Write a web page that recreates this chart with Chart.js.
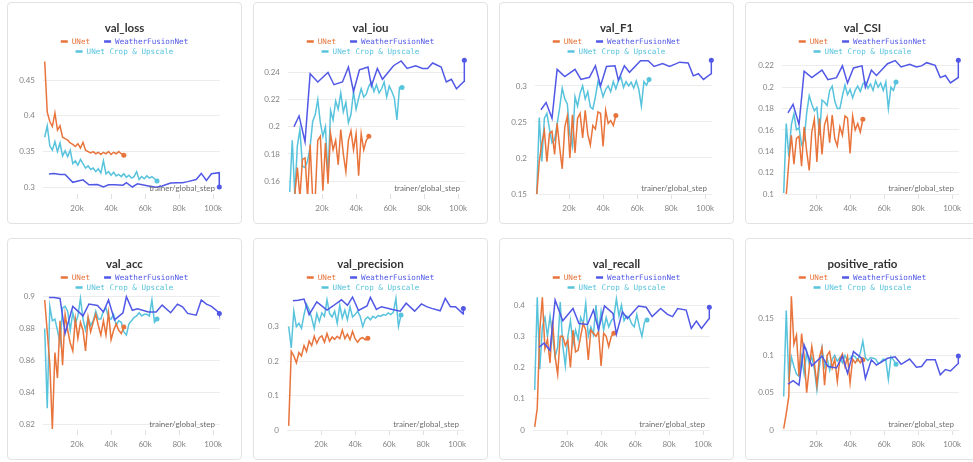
<!DOCTYPE html>
<html>
<head>
<meta charset="utf-8">
<script src="https://cdn.jsdelivr.net/npm/chart.js"></script>
<style>
  html, body { margin: 0; padding: 0; background: #ffffff; }
  body { position: relative; width: 973px; height: 462px; overflow: hidden; }
  .panel { position: absolute; width: 235px; height: 222px; box-sizing: border-box;
           border: 1px solid #e2e2e2; border-radius: 4px; background: #ffffff; overflow: hidden; }
  .panel canvas { position: absolute; left: 0; top: 0; }
</style>
</head>
<body>
<div class="panel" style="left:7px;top:2px"><canvas id="c0" width="233" height="220"></canvas></div>
<div class="panel" style="left:253px;top:2px"><canvas id="c1" width="233" height="220"></canvas></div>
<div class="panel" style="left:499px;top:2px"><canvas id="c2" width="233" height="220"></canvas></div>
<div class="panel" style="left:745px;top:2px"><canvas id="c3" width="233" height="220"></canvas></div>
<div class="panel" style="left:7px;top:238px"><canvas id="c4" width="233" height="220"></canvas></div>
<div class="panel" style="left:253px;top:238px"><canvas id="c5" width="233" height="220"></canvas></div>
<div class="panel" style="left:499px;top:238px"><canvas id="c6" width="233" height="220"></canvas></div>
<div class="panel" style="left:745px;top:238px"><canvas id="c7" width="233" height="220"></canvas></div>
<script>
// ---- evaluation steps of each run ----
const UNET_STEPS = [1000,2500,4000,5500,7000,8500,10000,11500,13000,14500,16000,17500,19000,20500,22000,23500,25000,26500,28000,29500,31000,32500,34000,35500,37000,38500,40000,41500,43000,44500,46000,47500];
const CROP_STEPS = [1000,2500,4000,5500,7000,8500,10000,11500,13000,14500,16000,17500,19000,20500,22000,23500,25000,26500,28000,29500,31000,32500,34000,35500,37000,38500,40000,41500,43000,44500,46000,47500,49000,50500,52000,53500,55000,56500,58000,59500,61000,62500,64000,65500,67000];
const WFN_STEPS = [3500,6500,10000,13000,17500,23500,27000,32000,35500,38500,42000,47000,49000,52500,55500,62000,66500,70000,75000,79000,82000,85000,90000,93000,96000,99000,103500,103600];

// ---- x axis ticks ----
const X_TICKS = [20000,40000,60000,80000,100000];

// ---- val_loss ----
const LOSS_UNET = [0.476,0.405,0.392,0.385,0.404,0.380,0.386,0.370,0.368,0.366,0.362,0.360,0.357,0.361,0.355,0.363,0.352,0.350,0.348,0.350,0.347,0.349,0.346,0.349,0.347,0.350,0.346,0.349,0.347,0.350,0.347,0.345];
const LOSS_WFN = [0.3185,0.3195,0.318,0.318,0.307,0.3105,0.3035,0.304,0.3005,0.3035,0.3035,0.303,0.3065,0.3005,0.305,0.302,0.300,0.302,0.306,0.3065,0.3065,0.308,0.311,0.3195,0.3095,0.319,0.3205,0.3005];
const LOSS_CROP = [0.370,0.386,0.358,0.352,0.364,0.350,0.362,0.344,0.351,0.343,0.352,0.333,0.337,0.331,0.339,0.333,0.327,0.330,0.325,0.327,0.322,0.326,0.320,0.337,0.319,0.322,0.317,0.321,0.316,0.318,0.315,0.319,0.314,0.317,0.313,0.315,0.322,0.311,0.315,0.312,0.316,0.313,0.315,0.312,0.309];
const LOSS_TICKS = [0.3,0.35,0.4,0.45];

// ---- val_iou ----
const IOU_UNET = [0.147,0.147,0.150,0.170,0.148,0.176,0.177,0.148,0.187,0.147,0.148,0.190,0.193,0.153,0.188,0.158,0.195,0.183,0.190,0.172,0.198,0.180,0.167,0.190,0.197,0.183,0.195,0.164,0.195,0.183,0.190,0.193];
const IOU_WFN = [0.200,0.208,0.189,0.239,0.233,0.240,0.231,0.233,0.244,0.226,0.242,0.244,0.230,0.243,0.235,0.245,0.2485,0.243,0.245,0.243,0.243,0.247,0.244,0.233,0.235,0.228,0.2335,0.249];
const IOU_CROP = [0.152,0.190,0.150,0.186,0.198,0.171,0.170,0.175,0.185,0.204,0.209,0.220,0.203,0.193,0.200,0.163,0.212,0.205,0.219,0.213,0.225,0.211,0.218,0.203,0.209,0.226,0.213,0.221,0.228,0.222,0.224,0.230,0.233,0.226,0.231,0.225,0.228,0.233,0.222,0.230,0.226,0.221,0.205,0.229,0.229];
const IOU_TICKS = [0.16,0.18,0.2,0.22,0.24];

// ---- val_F1 ----
const F1_UNET = [0.148,0.195,0.220,0.238,0.195,0.234,0.237,0.205,0.248,0.214,0.185,0.243,0.258,0.200,0.260,0.207,0.255,0.262,0.228,0.266,0.233,0.218,0.245,0.240,0.264,0.262,0.216,0.266,0.248,0.252,0.245,0.259];
const F1_WFN = [0.267,0.277,0.255,0.323,0.313,0.323,0.309,0.312,0.328,0.300,0.327,0.328,0.308,0.328,0.319,0.335,0.335,0.327,0.331,0.327,0.330,0.333,0.332,0.314,0.317,0.309,0.317,0.3355];
const F1_CROP = [0.149,0.256,0.195,0.255,0.262,0.240,0.221,0.225,0.247,0.270,0.297,0.282,0.275,0.232,0.216,0.285,0.272,0.290,0.300,0.282,0.292,0.271,0.268,0.285,0.306,0.298,0.285,0.295,0.300,0.292,0.306,0.296,0.307,0.312,0.298,0.306,0.300,0.305,0.297,0.307,0.295,0.272,0.306,0.301,0.309];
const F1_TICKS = [0.15,0.2,0.25,0.3];

// ---- val_CSI ----
const CSI_UNET = [0.098,0.099,0.130,0.155,0.128,0.152,0.154,0.126,0.163,0.140,0.122,0.158,0.170,0.130,0.171,0.137,0.165,0.172,0.148,0.174,0.152,0.145,0.163,0.155,0.173,0.171,0.138,0.173,0.160,0.166,0.158,0.170];
const CSI_WFN = [0.176,0.184,0.165,0.215,0.209,0.216,0.207,0.209,0.220,0.204,0.218,0.220,0.200,0.216,0.211,0.222,0.225,0.219,0.2215,0.219,0.220,0.223,0.2205,0.209,0.211,0.204,0.209,0.2253];
const CSI_CROP = [0.101,0.166,0.135,0.165,0.175,0.160,0.162,0.146,0.150,0.176,0.192,0.184,0.178,0.181,0.155,0.188,0.186,0.183,0.197,0.201,0.187,0.180,0.180,0.192,0.202,0.193,0.198,0.190,0.197,0.201,0.196,0.203,0.205,0.199,0.203,0.197,0.206,0.200,0.204,0.197,0.205,0.180,0.200,0.197,0.205];
const CSI_TICKS = [0.1,0.12,0.14,0.16,0.18,0.2,0.22];

// ---- val_acc ----
const ACC_UNET = [0.898,0.878,0.858,0.817,0.865,0.849,0.885,0.857,0.889,0.879,0.871,0.866,0.886,0.874,0.884,0.879,0.866,0.887,0.878,0.884,0.889,0.882,0.876,0.885,0.876,0.890,0.873,0.879,0.883,0.879,0.877,0.881];
const ACC_WFN = [0.8996,0.8996,0.899,0.877,0.894,0.888,0.8955,0.8946,0.8905,0.898,0.8855,0.890,0.900,0.8915,0.8925,0.8905,0.8905,0.8948,0.890,0.8954,0.8937,0.8896,0.8885,0.898,0.8954,0.894,0.890,0.8895];
const ACC_CROP = [0.880,0.830,0.894,0.885,0.886,0.879,0.871,0.893,0.894,0.891,0.879,0.890,0.883,0.888,0.899,0.886,0.879,0.887,0.882,0.885,0.891,0.886,0.886,0.891,0.893,0.887,0.886,0.889,0.882,0.885,0.884,0.878,0.876,0.883,0.885,0.887,0.888,0.890,0.888,0.889,0.889,0.888,0.898,0.884,0.886];
const ACC_TICKS = [0.82,0.84,0.86,0.88,0.9];

// ---- val_precision ----
const PREC_UNET = [0.012,0.228,0.215,0.195,0.225,0.215,0.245,0.228,0.258,0.245,0.272,0.252,0.268,0.273,0.255,0.280,0.258,0.270,0.263,0.272,0.265,0.290,0.265,0.278,0.262,0.286,0.265,0.255,0.265,0.268,0.262,0.266];
const PREC_WFN = [0.375,0.377,0.380,0.335,0.372,0.348,0.360,0.378,0.362,0.386,0.347,0.360,0.385,0.350,0.358,0.350,0.345,0.368,0.345,0.366,0.358,0.353,0.346,0.382,0.358,0.358,0.337,0.353];
const PREC_CROP = [0.300,0.238,0.345,0.300,0.310,0.295,0.335,0.365,0.350,0.325,0.295,0.338,0.315,0.340,0.330,0.378,0.338,0.328,0.345,0.310,0.362,0.325,0.348,0.320,0.358,0.328,0.335,0.345,0.330,0.300,0.322,0.328,0.320,0.330,0.325,0.332,0.330,0.335,0.333,0.340,0.335,0.342,0.382,0.300,0.334];
const PREC_TICKS = [0,0.1,0.2,0.3];

// ---- val_recall ----
const REC_UNET = [0.010,0.070,0.320,0.425,0.260,0.290,0.215,0.350,0.235,0.178,0.300,0.300,0.270,0.288,0.200,0.320,0.250,0.255,0.300,0.341,0.320,0.224,0.320,0.310,0.300,0.315,0.205,0.310,0.300,0.267,0.300,0.310];
const REC_WFN = [0.265,0.278,0.255,0.416,0.350,0.389,0.341,0.338,0.384,0.322,0.397,0.373,0.307,0.378,0.357,0.397,0.393,0.363,0.389,0.370,0.363,0.389,0.384,0.325,0.349,0.325,0.357,0.393];
const REC_CROP = [0.128,0.425,0.195,0.330,0.360,0.300,0.365,0.300,0.235,0.265,0.410,0.270,0.205,0.300,0.350,0.275,0.320,0.290,0.360,0.340,0.405,0.300,0.330,0.305,0.400,0.315,0.380,0.320,0.360,0.330,0.350,0.360,0.420,0.365,0.400,0.350,0.365,0.360,0.340,0.330,0.370,0.330,0.300,0.345,0.352];
const REC_TICKS = [0,0.1,0.2,0.3,0.4];

// ---- positive_ratio ----
const POS_UNET = [0.002,0.022,0.045,0.179,0.115,0.127,0.072,0.129,0.100,0.050,0.083,0.112,0.090,0.060,0.098,0.110,0.060,0.100,0.105,0.083,0.095,0.065,0.095,0.102,0.085,0.098,0.063,0.095,0.090,0.095,0.090,0.094];
const POS_WFN = [0.0615,0.066,0.060,0.114,0.086,0.099,0.085,0.083,0.099,0.076,0.105,0.096,0.069,0.094,0.087,0.096,0.098,0.088,0.095,0.084,0.085,0.094,0.094,0.074,0.081,0.079,0.089,0.099];
const POS_CROP = [0.045,0.160,0.065,0.098,0.085,0.075,0.072,0.098,0.075,0.105,0.088,0.098,0.082,0.054,0.085,0.110,0.085,0.097,0.080,0.095,0.100,0.092,0.097,0.090,0.100,0.093,0.096,0.100,0.098,0.093,0.103,0.119,0.097,0.093,0.097,0.096,0.095,0.089,0.091,0.095,0.094,0.068,0.098,0.094,0.088];
const POS_TICKS = [0,0.05,0.1,0.15];

// ---- run names and colours ----
const RUN_UNET = 'UNet';
const RUN_WFN = 'WeatherFusionNet';
const RUN_CROP = 'UNet Crop & Upscale';
const COLOR_UNET = '#e8743b';
const COLOR_WFN = '#5158e6';
const COLOR_CROP = '#58c3dc';

// one entry per panel: metric name, series, y range and y axis width
const PANELS = [
  { title: 'val_loss',        unet: LOSS_UNET, wfn: LOSS_WFN, crop: LOSS_CROP, ticks: LOSS_TICKS, min: 0.2907, max: 0.478,  axisW: 35 },
  { title: 'val_iou',         unet: IOU_UNET,  wfn: IOU_WFN,  crop: IOU_CROP,  ticks: IOU_TICKS,  min: 0.1505, max: 0.2492, axisW: 34 },
  { title: 'val_F1',          unet: F1_UNET,   wfn: F1_WFN,   crop: F1_CROP,   ticks: F1_TICKS,   min: 0.15,   max: 0.336,  axisW: 35 },
  { title: 'val_CSI',         unet: CSI_UNET,  wfn: CSI_WFN,  crop: CSI_CROP,  ticks: CSI_TICKS,  min: 0.1,    max: 0.2255, axisW: 36 },
  { title: 'val_acc',         unet: ACC_UNET,  wfn: ACC_WFN,  crop: ACC_CROP,  ticks: ACC_TICKS,  min: 0.8164, max: 0.9005, axisW: 35 },
  { title: 'val_precision',   unet: PREC_UNET, wfn: PREC_WFN, crop: PREC_CROP, ticks: PREC_TICKS, min: 0,      max: 0.389,  axisW: 33 },
  { title: 'val_recall',      unet: REC_UNET,  wfn: REC_WFN,  crop: REC_CROP,  ticks: REC_TICKS,  min: 0,      max: 0.429,  axisW: 33 },
  { title: 'positive_ratio',  unet: POS_UNET,  wfn: POS_WFN,  crop: POS_CROP,  ticks: POS_TICKS,  min: 0,      max: 0.1795, axisW: 36 }
];

const CANVAS_W = 233;
const PLOT_W = 177;
const TICK_FONT = { family: 'Lato, "Open Sans", sans-serif', size: 8 };
const LEGEND_ROWS = [
  [[RUN_UNET, COLOR_UNET], [RUN_WFN, COLOR_WFN]],
  [[RUN_CROP, COLOR_CROP]]
];

// legend under the title and the x-axis caption inside the plot
const panelDecor = {
  id: 'panelDecor',
  afterDatasetsDraw(chart) {
    const { ctx, chartArea } = chart;
    ctx.save();
    ctx.font = '8px Lato, "Open Sans", sans-serif';
    ctx.fillStyle = '#6e6e6e';
    ctx.textAlign = 'right';
    ctx.textBaseline = 'middle';
    ctx.fillText('trainer/global_step', chartArea.right - 5, chartArea.bottom - 6);
    ctx.restore();
  },
  afterDraw(chart) {
    const ctx = chart.ctx;
    ctx.save();
    ctx.font = '7.6px "DejaVu Sans Mono", monospace';
    ctx.textBaseline = 'middle';
    ctx.textAlign = 'left';
    const mark = 7, gapText = 4, gapItem = 14;
    const cx = chart.width / 2;
    LEGEND_ROWS.forEach((row, r) => {
      const y = 38.5 + r * 10;
      const widths = row.map(([label]) => mark + gapText + ctx.measureText(label).width);
      const total = widths.reduce((a, b) => a + b, 0) + gapItem * (row.length - 1);
      let x = cx - total / 2;
      row.forEach(([label, color], i) => {
        ctx.fillStyle = color;
        ctx.fillRect(x, y - 1.25, mark, 2.5);
        ctx.fillText(label, x + mark + gapText, y + 0.5);
        x += widths[i] + gapItem;
      });
    });
    ctx.restore();
  }
};

function runSeries(label, steps, values, color) {
  return {
    label,
    data: steps.map((s, i) => ({ x: s, y: values[i] })),
    borderColor: color,
    backgroundColor: color,
    borderWidth: 1.5,
    tension: 0,
    pointRadius: (c) => (c.dataIndex === c.dataset.data.length - 1 ? 2.5 : 0),
    pointBorderWidth: 0,
    pointBackgroundColor: color,
    pointHoverRadius: 0,
    clip: { left: 3, top: 4, right: 5, bottom: 0 }
  };
}

PANELS.forEach((p, idx) => {
  const padR = CANVAS_W - p.axisW - PLOT_W;
  new Chart(document.getElementById('c' + idx), {
    type: 'line',
    data: {
      datasets: [
        runSeries(RUN_WFN, WFN_STEPS, p.wfn, COLOR_WFN),
        runSeries(RUN_UNET, UNET_STEPS, p.unet, COLOR_UNET),
        runSeries(RUN_CROP, CROP_STEPS, p.crop, COLOR_CROP)
      ]
    },
    options: {
      responsive: false,
      animation: false,
      events: [],
      devicePixelRatio: 1,
      layout: { padding: 0 },
      plugins: {
        legend: { display: false },
        tooltip: { enabled: false },
        title: {
          display: true,
          text: p.title,
          color: '#333333',
          font: { family: 'Lato, "Open Sans", sans-serif', size: 11.5, weight: 'bold' },
          padding: { top: 18.1, bottom: 25.1 }
        }
      },
      scales: {
        x: {
          type: 'linear',
          min: 0,
          max: 104000,
          afterBuildTicks: (s) => { s.ticks = X_TICKS.map((v) => ({ value: v })); },
          afterFit: (s) => { s.height = 29; },
          grid: { drawOnChartArea: false, drawTicks: true, tickLength: 5, color: '#e0e0e0' },
          border: { display: false },
          ticks: {
            padding: 5, color: '#858585', font: TICK_FONT,
            maxRotation: 0, autoSkip: false,
            callback: (v) => (v / 1000) + 'k'
          }
        },
        y: {
          type: 'linear',
          min: p.min,
          max: p.max,
          afterBuildTicks: (s) => { s.ticks = p.ticks.map((v) => ({ value: v })); },
          afterFit: (s) => { s.width = p.axisW; },
          grid: { drawTicks: false, color: '#ececec' },
          border: { display: false },
          ticks: {
            padding: 8, color: '#858585', font: TICK_FONT,
            callback: (v) => String(+Number(v).toFixed(4))
          }
        },
        gutter: {
          type: 'linear',
          position: 'right',
          display: true,
          afterFit: (s) => { s.width = padR; },
          grid: { display: false },
          border: { display: false },
          ticks: { display: false }
        }
      }
    },
    plugins: [panelDecor]
  });
});
</script>
</body>
</html>
